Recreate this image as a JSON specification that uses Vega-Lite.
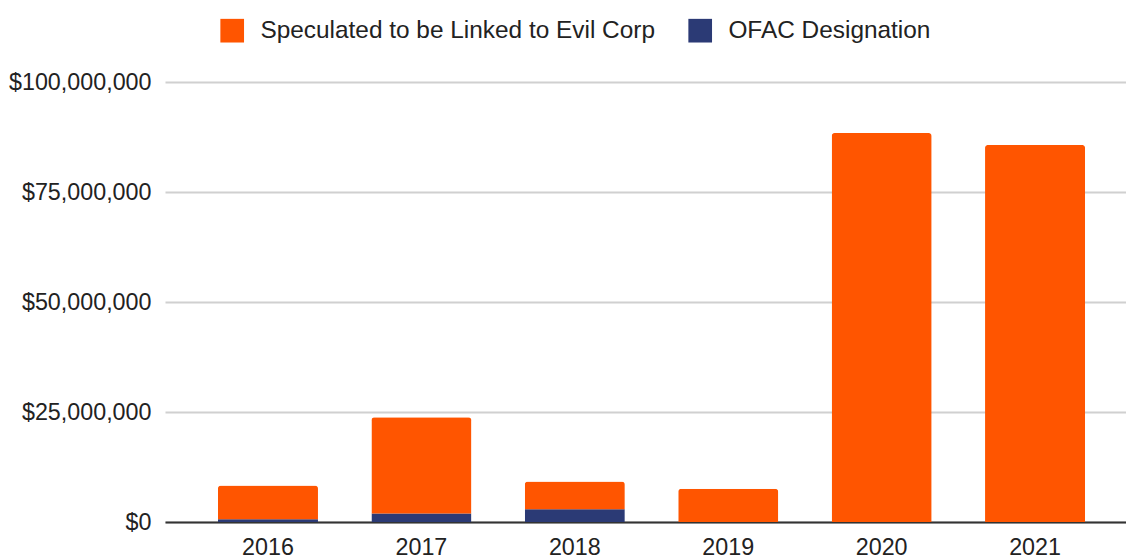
{
  "$schema": "https://vega.github.io/schema/vega-lite/v6.json",
  "width": 961,
  "height": 440,
  "autosize": "none",
  "padding": {"left": 165, "top": 82, "right": 0, "bottom": 36},
  "background": "white",
  "data": {
    "values": [
      {"year": "2016", "series": "OFAC Designation", "value": 600000},
      {"year": "2016", "series": "Speculated to be Linked to Evil Corp", "value": 7700000},
      {"year": "2017", "series": "OFAC Designation", "value": 1950000},
      {"year": "2017", "series": "Speculated to be Linked to Evil Corp", "value": 21850000},
      {"year": "2018", "series": "OFAC Designation", "value": 2900000},
      {"year": "2018", "series": "Speculated to be Linked to Evil Corp", "value": 6300000},
      {"year": "2019", "series": "Speculated to be Linked to Evil Corp", "value": 7550000},
      {"year": "2020", "series": "Speculated to be Linked to Evil Corp", "value": 88400000},
      {"year": "2021", "series": "Speculated to be Linked to Evil Corp", "value": 85700000}
    ]
  },
  "mark": {"type": "bar", "cornerRadiusEnd": 3},
  "encoding": {
    "x": {
      "field": "year",
      "type": "ordinal",
      "scale": {"paddingInner": 0.348, "paddingOuter": 0.306, "align": 0.564},
      "axis": {
        "title": null,
        "labelAngle": 0,
        "labelFont": "Liberation Sans",
        "labelFontSize": 23.3,
        "labelColor": "#222222",
        "labelPadding": 14,
        "ticks": false,
        "domainColor": "#333333",
        "domainWidth": 2,
        "grid": false
      }
    },
    "y": {
      "field": "value",
      "type": "quantitative",
      "stack": "zero",
      "scale": {"domain": [0, 100000000], "nice": false},
      "axis": {
        "title": null,
        "values": [0, 25000000, 50000000, 75000000, 100000000],
        "format": "$,.0f",
        "labelFont": "Liberation Sans",
        "labelFontSize": 23.3,
        "labelColor": "#222222",
        "labelPadding": 14,
        "ticks": false,
        "domain": false,
        "grid": true,
        "gridColor": "#d0d0d0",
        "gridWidth": 2
      }
    },
    "color": {
      "field": "series",
      "type": "nominal",
      "scale": {
        "domain": ["Speculated to be Linked to Evil Corp", "OFAC Designation"],
        "range": ["#ff5500", "#2b3a75"]
      },
      "legend": {
        "title": null,
        "orient": "none",
        "direction": "horizontal",
        "legendX": 55,
        "legendY": -64,
        "padding": 0,
        "symbolType": "square",
        "symbolSize": 560,
        "symbolStrokeWidth": 0,
        "symbolOpacity": 1,
        "labelFont": "Liberation Sans",
        "labelFontSize": 24.4,
        "labelColor": "#222222",
        "labelOffset": 16,
        "columnPadding": 33,
        "labelLimit": 600
      }
    },
    "order": {"field": "series", "sort": "ascending"}
  },
  "config": {"view": {"stroke": null}}
}
